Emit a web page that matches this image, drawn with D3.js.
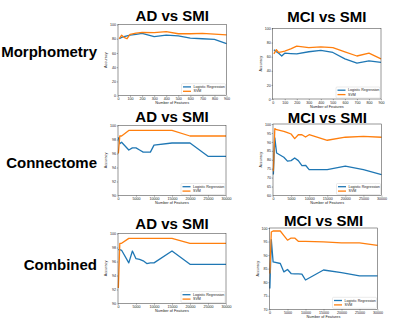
<!DOCTYPE html>
<html>
<head>
<meta charset="utf-8">
<script src="https://cdn.jsdelivr.net/npm/d3@7"></script>
<style>
  body { margin: 0; background: #fff; }
  svg { display: block; font-family: "Liberation Sans", Arial, sans-serif; }
  .tick text { font-size: 3.6px; fill: #222; }
  .tick line { stroke: #333; stroke-width: 0.4; }
  .domain { display: none; }
</style>
</head>
<body>
<svg id="fig" width="400" height="323"></svg>
<script>
// row labels and column titles
var rowLabels = ["Morphometry", "Connectome", "Combined"];
var colTitles = ["AD vs SMI", "MCI vs SMI"];
var seriesNames = ["Logistic Regression", "SVM"];

// morphometry: x = number of features
var morphX = [10, 30, 50, 75, 100, 150, 200, 300, 400, 500, 600, 700, 800, 900];
var morphAdLR  = [80, 82, 83, 84, 85, 86, 87.5, 83, 85, 84, 81, 80, 79, 73];
var morphAdSVM = [80, 85, 82, 80, 86, 88, 89, 88.5, 90, 87, 87, 87.5, 86.5, 85.5];
var morphMciLR  = [70, 67, 65, 61, 65, 64.5, 64, 67, 69, 66, 57, 51, 54, 52];
var morphMciSVM = [64, 70, 66, 67, 68, 71, 75, 73, 74, 73, 67, 61, 65, 57];

// connectome
var connX = [100, 500, 1000, 3000, 4000, 5000, 6000, 7000, 8000, 9000, 10000, 15000, 20000, 25000, 30000];
var connAdLR  = [98.3, 97.4, 97.6, 96.5, 96.8, 96.8, 96.5, 96.2, 96.2, 96.2, 97.2, 97.5, 97.5, 95.6, 95.6];
var connAdSVM = [96.0, 98.5, 98.5, 99.3, 99.3, 99.3, 99.3, 99.3, 99.3, 99.3, 99.3, 99.3, 98.5, 98.5, 98.5];
var connMciLR  = [71.7, 92.2, 83.8, 81.4, 79.2, 79.5, 81, 79.5, 76.7, 76.9, 74.5, 74.5, 76.4, 74.5, 71.7];
var connMciSVM = [73.6, 97.4, 96.8, 95.9, 95.2, 94.4, 91.8, 94, 94, 92.7, 94, 90.9, 92.6, 93.1, 92.6];

// combined
var combX = [100, 500, 1000, 3000, 4000, 5000, 6000, 7000, 8000, 9000, 10000, 15000, 20000, 25000, 30000];
var combAdLR  = [97.7, 97.7, 97.6, 95.8, 97.5, 96.4, 96.3, 96.1, 95.7, 95.8, 95.8, 97.5, 95.6, 95.6, 95.6];
var combAdSVM = [92.2, 98.6, 98.6, 99.3, 99.3, 99.3, 99.3, 99.3, 99.3, 99.3, 99.3, 99.3, 98.6, 98.6, 98.6];
var combMciLR  = [77.7, 95.7, 87.5, 86.9, 83.8, 84.7, 83.2, 83.1, 83.1, 83, 80.8, 84.5, 83.5, 82.3, 82.3];
var combMciSVM = [83.2, 98.5, 98.9, 98.9, 97.2, 95.5, 96.3, 96.3, 95.1, 95.1, 95.1, 94.9, 94.5, 94.5, 93.6];

// axis ranges / ticks
var morphXTicks = [0, 100, 200, 300, 400, 500, 600, 700, 800, 900];
var bigXTicks = [0, 5000, 10000, 15000, 20000, 25000, 30000];
var pctTicks = [0, 20, 40, 60, 80, 100];
var adTicks = [90, 92, 94, 96, 98, 100];
var connMciTicks = [60, 65, 70, 75, 80, 85, 90, 95, 100];
var combMciTicks = [70, 75, 80, 85, 90, 95, 100];

var colors = ["#1f77b4", "#ff7f0e"];

// panel boxes: [left, top, right, bottom]
var panels = [
    {box: [118, 24.5, 226.5, 95.7], x: morphX, s: [morphAdLR, morphAdSVM], xd: [0, 900], xt: morphXTicks, yd: [0, 100], yt: pctTicks, title: 0, titleY: 21},
    {box: [272.7, 28.5, 381, 99], x: morphX, s: [morphMciLR, morphMciSVM], xd: [0, 900], xt: morphXTicks, yd: [0, 100], yt: pctTicks, title: 1, titleY: 21.5},
    {box: [118, 125.5, 226, 195.5], x: connX, s: [connAdLR, connAdSVM], xd: [0, 30000], xt: bigXTicks, yd: [90, 100], yt: adTicks, title: 0, titleY: 121.5},
    {box: [273, 124, 381.5, 195.5], x: connX, s: [connMciLR, connMciSVM], xd: [0, 30000], xt: bigXTicks, yd: [60, 100], yt: connMciTicks, title: 1, titleY: 123},
    {box: [118, 233.5, 226, 303.5], x: combX, s: [combAdLR, combAdSVM], xd: [0, 30000], xt: bigXTicks, yd: [90, 100], yt: adTicks, title: 0, titleY: 229},
    {box: [269.5, 228, 377.5, 309.3], x: combX, s: [combMciLR, combMciSVM], xd: [0, 30000], xt: bigXTicks, yd: [70, 100], yt: combMciTicks, title: 1, titleY: 225.5}
];

var svg = d3.select("#fig");

// row labels (right aligned)
var rowY = [57, 168, 270];
rowLabels.forEach(function(t, i) {
    svg.append("text")
        .attr("x", 97).attr("y", rowY[i])
        .attr("text-anchor", "end")
        .style("font-size", "15px").style("font-weight", "bold")
        .text(t);
});

panels.forEach(function(p) {
    var b = p.box;
    var w = b[2] - b[0], h = b[3] - b[1];
    var x = d3.scaleLinear().domain(p.xd).range([0, w]);
    var y = d3.scaleLinear().domain(p.yd).range([h, 0]);
    var g = svg.append("g").attr("transform", "translate(" + b[0] + "," + b[1] + ")");

    // title
    svg.append("text")
        .attr("x", (b[0] + b[2]) / 2).attr("y", p.titleY)
        .attr("text-anchor", "middle")
        .style("font-size", "15px").style("font-weight", "bold")
        .text(colTitles[p.title]);

    // axes
    g.append("g").attr("transform", "translate(0," + h + ")")
        .call(d3.axisBottom(x).tickValues(p.xt).tickSize(1.2).tickPadding(0.8).tickFormat(d3.format("d")));
    g.append("g")
        .call(d3.axisLeft(y).tickValues(p.yt).tickSize(1.2).tickPadding(0.8).tickFormat(d3.format("d")));

    // axis labels
    g.append("text").attr("x", w / 2).attr("y", h + 8.5)
        .attr("text-anchor", "middle").style("font-size", "3.8px").attr("fill", "#222")
        .text("Number of Features");
    g.append("text")
        .attr("transform", "translate(-11," + (h / 2) + ") rotate(-90)")
        .attr("text-anchor", "middle").style("font-size", "3.8px").attr("fill", "#222")
        .text("Accuracy");

    // lines
    var line = d3.line()
        .x(function(d, i) { return x(p.x[i]); })
        .y(function(d) { return y(d); });
    p.s.forEach(function(vals, k) {
        g.append("path").datum(vals)
            .attr("d", line)
            .attr("fill", "none")
            .attr("stroke", colors[k])
            .attr("stroke-width", 1.3)
            .attr("stroke-linejoin", "round");
    });

    // frame (all four spines)
    g.append("rect").attr("width", w).attr("height", h)
        .attr("fill", "none").attr("stroke", "#333").attr("stroke-width", 0.5);

    // legend, lower right
    var lw = 44, lh = 11;
    var lg = g.append("g").attr("transform", "translate(" + (w - lw - 1) + "," + (h - lh - 1) + ")");
    lg.append("rect").attr("width", lw).attr("height", lh).attr("rx", 1)
        .attr("fill", "#fff").attr("fill-opacity", 0.8)
        .attr("stroke", "#ccc").attr("stroke-width", 0.4);
    seriesNames.forEach(function(n, k) {
        var yy = 3.2 + k * 4.4;
        lg.append("line").attr("x1", 1.5).attr("x2", 9.5).attr("y1", yy).attr("y2", yy)
            .attr("stroke", colors[k]).attr("stroke-width", 1.3);
        lg.append("text").attr("x", 12).attr("y", yy + 1.2)
            .style("font-size", "3.6px").attr("fill", "#222").text(n);
    });
});
</script>
</body>
</html>
